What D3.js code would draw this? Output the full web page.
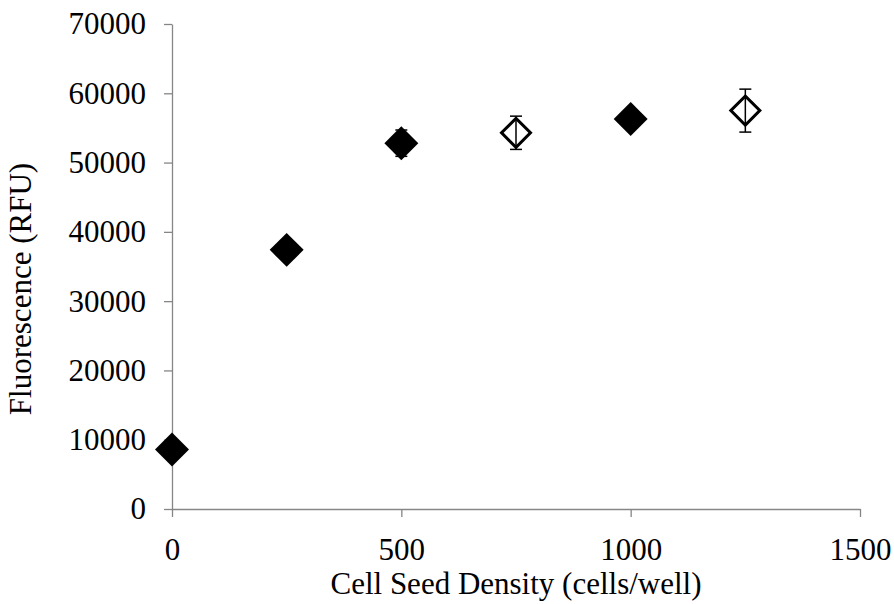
<!DOCTYPE html>
<html>
<head>
<meta charset="utf-8">
<script src="https://cdn.jsdelivr.net/npm/d3@7"></script>
<style>
  body { margin: 0; background: #fff; }
  text { font-family: "Times New Roman", "Liberation Serif", serif; fill: #000; }
</style>
</head>
<body>
<div id="chart"></div>
<script>
// cell seed density (cells/well)
const cellDensity = [0, 250, 500, 750, 1000, 1250];
// mean fluorescence (RFU)
const meanRFU = [8600, 37400, 52800, 54300, 56300, 57500];
// error bar half-length (RFU)
const errRFU = [500, 800, 1900, 2400, 1200, 3100];
// hollow marker for these points
const openMarker = [false, false, false, true, false, true];

const xTicks = [0, 500, 1000, 1500];
const yTicks = [0, 10000, 20000, 30000, 40000, 50000, 60000, 70000];

const width = 894, height = 604;
const margin = { top: 24, right: 34, bottom: 95, left: 172 };
const fontSize = "31px";

const data = cellDensity.map((d, i) => ({
  x: d, y: meanRFU[i], err: errRFU[i], open: openMarker[i]
}));

const svg = d3.select("#chart").append("svg")
  .attr("width", width)
  .attr("height", height);

const x = d3.scaleLinear()
  .domain([0, 1500])
  .range([margin.left, width - margin.right]);

const y = d3.scaleLinear()
  .domain([0, 70000])
  .range([height - margin.bottom, margin.top]);

// --- axes ---
const xAxis = svg.append("g")
  .attr("transform", `translate(0,${height - margin.bottom})`)
  .call(d3.axisBottom(x).tickValues(xTicks).tickFormat(d3.format("d"))
    .tickSize(8).tickPadding(21).tickSizeOuter(0));

const yAxis = svg.append("g")
  .attr("transform", `translate(${margin.left},0)`)
  .call(d3.axisLeft(y).tickValues(yTicks).tickFormat(d3.format("d"))
    .tickSize(8).tickPadding(18).tickSizeOuter(0));

[xAxis, yAxis].forEach(g => {
  g.attr("font-size", null).attr("font-family", null);
  g.select(".domain").attr("stroke", "#868686").attr("stroke-width", 1.3);
  g.selectAll(".tick line").attr("stroke", "#868686").attr("stroke-width", 1.3);
  g.selectAll(".tick text")
    .style("font-size", fontSize)
    .attr("fill", "#000");
});

// --- axis titles ---
svg.append("text")
  .attr("x", (x(0) + x(1500)) / 2)
  .attr("y", 594)
  .attr("text-anchor", "middle")
  .style("font-size", fontSize)
  .text("Cell Seed Density (cells/well)");

svg.append("text")
  .attr("transform", "translate(31,289) rotate(-90)")
  .attr("text-anchor", "middle")
  .style("font-size", fontSize)
  .text("Fluorescence (RFU)");

// --- error bars ---
const eb = svg.append("g").attr("stroke", "#000").attr("stroke-width", 1.5);
data.forEach(d => {
  eb.append("line")
    .attr("x1", x(d.x)).attr("x2", x(d.x))
    .attr("y1", y(d.y - d.err)).attr("y2", y(d.y + d.err));
  [d.y - d.err, d.y + d.err].forEach(v => {
    eb.append("line")
      .attr("x1", x(d.x) - 6).attr("x2", x(d.x) + 6)
      .attr("y1", y(v)).attr("y2", y(v));
  });
});

// --- markers (rotated squares) ---
const diamond = d3.symbol().type(d3.symbolSquare);
svg.selectAll(".pt")
  .data(data)
  .enter()
  .append("path")
  .attr("class", "pt")
  .attr("transform", d => `translate(${x(d.x)},${y(d.y)}) rotate(45)`)
  .attr("d", d => diamond.size(d.open ? 420 : 576)())
  .attr("fill", d => d.open ? "none" : "#000")
  .attr("stroke", "#000")
  .attr("stroke-width", d => d.open ? 3 : 0);
</script>
</body>
</html>
